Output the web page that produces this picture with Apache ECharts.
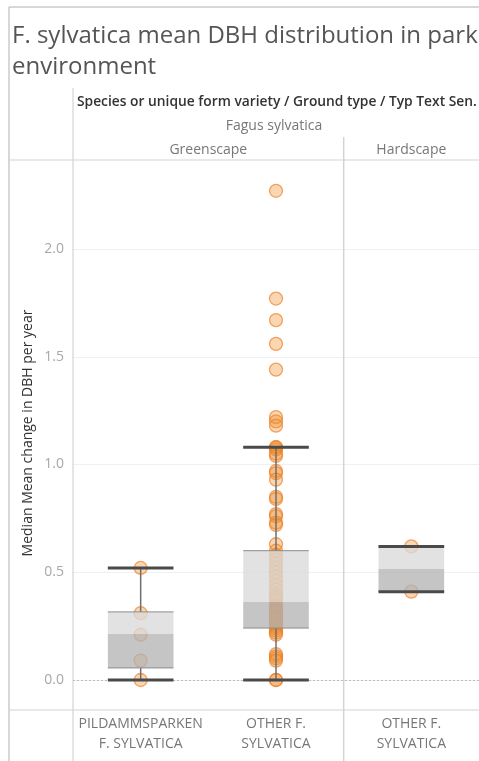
<!DOCTYPE html>
<html>
<head>
<meta charset="utf-8">
<script src="https://cdn.jsdelivr.net/npm/echarts@6/dist/echarts.min.js"></script>
<style>
  html, body { margin: 0; padding: 0; background: #fff; }
  #chart { width: 479px; height: 761px; }
</style>
</head>
<body>
<div id="chart"></div>
<script>
// Column categories (species form / ground type)
const categories = ['PILDAMMSPARKEN\nF. SYLVATICA', 'OTHER F.\nSYLVATICA', 'OTHER F.\nSYLVATICA'];
const groundTypes = ['Greenscape', 'Greenscape', 'Hardscape'];
const speciesName = 'Fagus sylvatica';
const headerTitle = 'Species or unique form variety / Ground type / Typ Text Sen.';
const chartTitle = 'F. sylvatica mean DBH distribution in park\nenvironment';
const yAxisTitle = 'Median Mean change in DBH per year';

// Per-tree median of mean DBH change per year, one list per column
const pildammsparkenValues = [0.52, 0.31, 0.21, 0.09, 0.0];
const otherGreenscapeValues = [
  2.27, 1.77, 1.67, 1.56, 1.44, 1.22, 1.20, 1.18,
  1.08, 1.08, 1.07, 1.05, 1.04, 0.97, 0.96, 0.93, 0.85, 0.84, 0.77, 0.76, 0.73, 0.72, 0.63,
  0.60, 0.58, 0.56, 0.54, 0.52, 0.50, 0.48, 0.46, 0.44, 0.42, 0.40, 0.39, 0.38, 0.37,
  0.35, 0.34, 0.33, 0.32, 0.31, 0.30, 0.29, 0.28, 0.27, 0.26, 0.25, 0.24,
  0.23, 0.22, 0.21, 0.12, 0.11, 0.10, 0.09, 0.0, 0.0
];
const otherHardscapeValues = [0.62, 0.41];
const columnValues = [pildammsparkenValues, otherGreenscapeValues, otherHardscapeValues];

// Box plot statistics per column
const lowerWhisker = [0.0, 0.0, 0.41];
const lowerQuartile = [0.056, 0.241, 0.41];
const medianValue = [0.214, 0.362, 0.515];
const upperQuartile = [0.316, 0.60, 0.62];
const upperWhisker = [0.52, 1.08, 0.62];

// Value axis ticks
const yMin = 0;
const yMax = 2.0;
const yInterval = 0.5;

const pointData = [];
columnValues.forEach((vals, i) => vals.forEach(v => pointData.push([i, v])));

const boxData = categories.map((c, i) => [
  i, lowerWhisker[i], lowerQuartile[i], medianValue[i], upperQuartile[i], upperWhisker[i]
]);

const FONT = "'Open Sans', 'Noto Sans', sans-serif";

const chart = echarts.init(document.getElementById('chart'), null, { renderer: 'canvas' });

const option = {
  animation: false,
  backgroundColor: '#fff',
  title: {
    text: chartTitle,
    left: 12,
    top: 21,
    padding: 0,
    textStyle: { fontFamily: FONT, fontSize: 24, fontWeight: 'normal', color: '#555', lineHeight: 31 }
  },
  grid: { left: 73, top: 249, width: 414, bottom: 81, containLabel: false },
  xAxis: {
    type: 'category',
    data: categories,
    axisLine: { show: false },
    axisTick: { show: false },
    splitLine: { show: false },
    axisLabel: {
      interval: 0, margin: 34, color: '#777', fontSize: 14, lineHeight: 20, fontFamily: FONT
    }
  },
  yAxis: {
    type: 'value',
    min: yMin, max: yMax, interval: yInterval,
    axisLine: { show: false },
    axisTick: { show: false },
    axisLabel: {
      margin: 9, color: '#a8a8a8', fontSize: 14, fontFamily: FONT,
      formatter: v => v.toFixed(1)
    },
    splitLine: { lineStyle: { color: '#f0f0f0', width: 1 } }
  },
  series: [
    {
      type: 'scatter',
      data: pointData,
      clip: false,
      symbolSize: 13,
      z: 2,
      itemStyle: {
        color: 'rgba(242,142,43,0.45)',
        borderColor: 'rgba(236,128,36,0.85)',
        borderWidth: 1.3
      },
      markLine: {
        silent: true,
        symbol: 'none',
        label: { show: false },
        lineStyle: { color: '#bdbdbd', type: [2, 2], width: 1 },
        data: [{ yAxis: 0 }],
        z: 1
      }
    },
    {
      type: 'custom',
      data: boxData,
      z: 3,
      encode: { x: 0, y: [1, 2, 3, 4, 5] },
      renderItem: function (params, api) {
        const i = api.value(0);
        const xc = api.coord([i, 0])[0];
        const band = api.size([1, 0])[0];
        const w = band * 0.485;
        const x0 = xc - w / 2;
        const yLo = api.coord([i, api.value(1)])[1];
        const yQ1 = api.coord([i, api.value(2)])[1];
        const yMed = api.coord([i, api.value(3)])[1];
        const yQ3 = api.coord([i, api.value(4)])[1];
        const yHi = api.coord([i, api.value(5)])[1];
        return {
          type: 'group',
          children: [
            { type: 'line', shape: { x1: xc, y1: yHi, x2: xc, y2: yQ3 }, style: { stroke: '#6f6f6f', lineWidth: 1.5 } },
            { type: 'line', shape: { x1: xc, y1: yQ1, x2: xc, y2: yLo }, style: { stroke: '#6f6f6f', lineWidth: 1.5 } },
            { type: 'rect', shape: { x: x0, y: yQ3, width: w, height: yMed - yQ3 }, style: { fill: 'rgba(218,218,218,0.78)' } },
            { type: 'rect', shape: { x: x0, y: yMed, width: w, height: yQ1 - yMed }, style: { fill: 'rgba(178,177,179,0.75)' } },
            { type: 'line', shape: { x1: x0, y1: yQ3, x2: x0 + w, y2: yQ3 }, style: { stroke: '#8c8c8c', lineWidth: 1 } },
            { type: 'line', shape: { x1: x0, y1: yQ1, x2: x0 + w, y2: yQ1 }, style: { stroke: '#8c8c8c', lineWidth: 1 } },
            { type: 'line', shape: { x1: x0, y1: yHi, x2: x0 + w, y2: yHi }, style: { stroke: '#4a4a4a', lineWidth: 3 } },
            { type: 'line', shape: { x1: x0, y1: yLo, x2: x0 + w, y2: yLo }, style: { stroke: '#4a4a4a', lineWidth: 3 } }
          ]
        };
      }
    }
  ]
};

chart.setOption(option);

// Header rows, pane frame and column separators placed from the axis positions
const colX = i => chart.convertToPixel({ xAxisIndex: 0 }, i);
const bandW = colX(1) - colX(0);
const paneLeft = colX(0) - bandW / 2;
const paneRight = colX(categories.length - 1) + bandW / 2;

// Ground type groups
const groups = [];
groundTypes.forEach((g, i) => {
  const last = groups[groups.length - 1];
  if (last && last.name === g) last.end = i; else groups.push({ name: g, start: i, end: i });
});

const frameColor = '#d4d4d4';
const headerTop = 88;
const headerBottom = 160;
const footerLine = 710;
const groupLineTop = 137;

const graphics = [
  // outer frame
  { type: 'line', shape: { x1: 9, y1: 7, x2: 479, y2: 7 }, style: { stroke: '#b0b0b0', lineWidth: 1 } },
  { type: 'line', shape: { x1: 9, y1: 7, x2: 9, y2: 761 }, style: { stroke: '#b0b0b0', lineWidth: 1 } },
  // pane frame
  { type: 'line', shape: { x1: paneLeft, y1: headerTop, x2: paneLeft, y2: 761 }, style: { stroke: frameColor, lineWidth: 1.2 } },
  { type: 'line', shape: { x1: 9, y1: headerBottom, x2: 479, y2: headerBottom }, style: { stroke: frameColor, lineWidth: 1.2 } },
  { type: 'line', shape: { x1: 9, y1: footerLine, x2: 479, y2: footerLine }, style: { stroke: frameColor, lineWidth: 1.2 } },
  // header texts
  { type: 'text', x: paneLeft + 4, y: 102, style: { text: headerTitle, fontFamily: FONT, fontSize: 13.8, fontWeight: 600, fill: '#333', align: 'left', verticalAlign: 'middle' } },
  { type: 'text', x: (paneLeft + paneRight) / 2 - 2, y: 126, style: { text: speciesName, fontFamily: FONT, fontSize: 14, fill: '#777', align: 'center', verticalAlign: 'middle' } },
  // y axis title
  { type: 'text', x: 28, y: 433, rotation: Math.PI / 2, style: { text: yAxisTitle, fontFamily: FONT, fontSize: 14, fill: '#333', align: 'center', verticalAlign: 'middle' } }
];

groups.forEach((g, k) => {
  const cx = (colX(g.start) + colX(g.end)) / 2;
  graphics.push({ type: 'text', x: cx, y: 150, style: { text: g.name, fontFamily: FONT, fontSize: 14, fill: '#777', align: 'center', verticalAlign: 'middle' } });
  if (k > 0) {
    const sx = colX(g.start) - bandW / 2;
    graphics.push({ type: 'line', shape: { x1: sx, y1: groupLineTop, x2: sx, y2: 761 }, style: { stroke: frameColor, lineWidth: 1.5 } });
  }
});

chart.setOption({ graphic: graphics });
</script>
</body>
</html>
